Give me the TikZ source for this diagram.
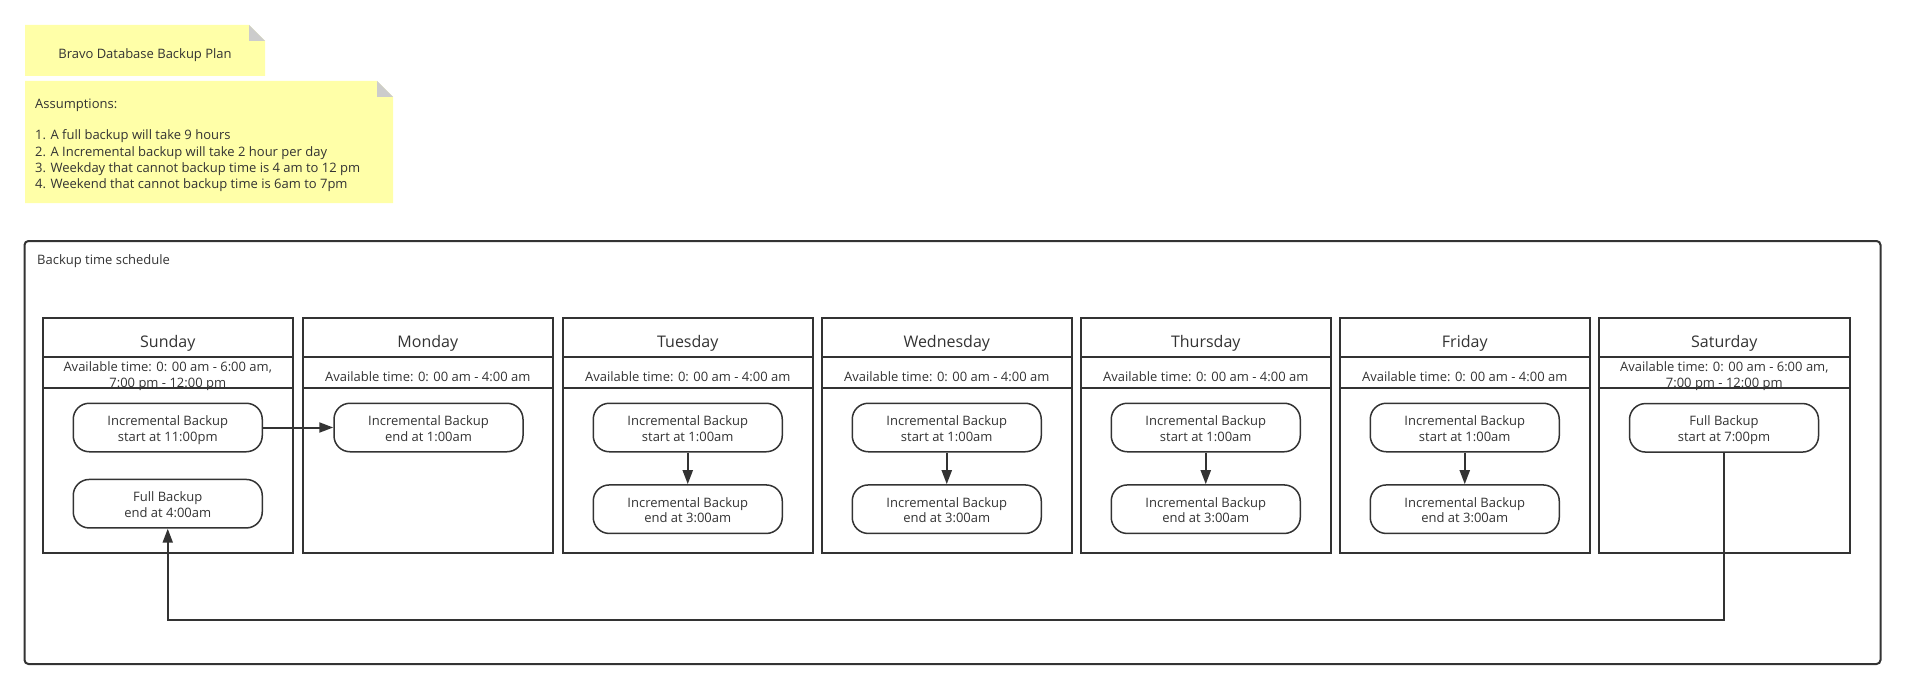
\documentclass[tikz,border=0pt]{standalone}
\usepackage{fontspec}
\setmainfont{Open Sans}
\usetikzlibrary{arrows.meta}
\definecolor{ink}{HTML}{333333}
\definecolor{notebg}{HTML}{FFFFA8}
\definecolor{foldc}{HTML}{CCCCCC}
\begin{document}
\begin{tikzpicture}[x=1pt,y=-1pt,
  every node/.style={text=ink, font=\fontsize{13}{16}\selectfont},
  daybox/.style={draw=ink, line width=2pt},
  dayname/.style={font=\fontsize{16}{19}\selectfont, inner sep=0pt},
  avail/.style={font=\fontsize{13}{16}\selectfont, align=center, inner sep=0pt},
  proc/.style={draw=ink, line width=1.5pt, rounded corners=16pt, minimum width=189pt, minimum height=48.5pt, align=center, inner sep=0pt, text height=27pt, text depth=0pt, font=\fontsize{13}{15.7}\selectfont},
  link/.style={draw=ink, line width=2pt, -{Triangle[length=14pt,width=10pt]}},
  frame/.style={draw=ink, line width=2pt, rounded corners=4pt}]
\useasboundingbox (0,0) rectangle (1906,690);
\fill[white] (0,0) rectangle (1906,690);

% notes
\fill[notebg] (25,25) -- (249,25) -- (265,41) -- (265,76) -- (25,76) -- cycle;
\fill[foldc] (249,25) -- (265,41) -- (249,41) -- cycle;
\node (title) at (145,55) {Bravo Database Backup Plan};

\fill[notebg] (25,81) -- (377,81) -- (393,97) -- (393,203) -- (25,203) -- cycle;
\fill[foldc] (377,81) -- (393,97) -- (377,97) -- cycle;
\node[anchor=base west, align=left, inner sep=0pt] (assume) at (35,188) {Assumptions:\\[16pt]
1. A full backup will take 9 hours\\
2. A Incremental backup will take 2 hour per day\\
3. Weekday that cannot backup time is 4 am to 12 pm\\
4. Weekend that cannot backup time is 6am to 7pm};

% frame
\draw[frame] (24.5,241) rectangle (1880.5,664);
\node[anchor=west, inner sep=0pt] (framelabel) at (37,261.5) {Backup time schedule};

% day columns
\foreach \L/\day [count=\i] in {42.5/Sunday, 302.5/Monday, 562.5/Tuesday, 821.5/Wednesday, 1080.5/Thursday, 1339.5/Friday, 1599/Saturday} {
  \draw[daybox] (\L,318) rectangle ++(250.5,235);
  \draw[daybox] (\L,357) -- ++(250.5,0);
  \node[dayname] (d\i) at (\L+125.25,343) {\day};
}
\foreach \L [count=\i from 2] in {302.5, 562.5, 821.5, 1080.5, 1339.5} {
  \node[avail] (a\i) at (\L+125.25,376.5) {Available time: 0: 00 am - 4:00 am};
}
\node[avail] (a1) at (167.75,376.5) {Available time: 0: 00 am - 6:00 am,\\7:00 pm - 12:00 pm};
\node[avail] (a7) at (1724.25,376.5) {Available time: 0: 00 am - 6:00 am,\\7:00 pm - 12:00 pm};
\foreach \L in {42.5, 302.5, 562.5, 821.5, 1080.5, 1339.5, 1599} {
  \draw[daybox] (\L,388) -- ++(250.5,0);
}

% processes
\node[proc] (sunA) at (167.75,427.5) {Incremental Backup\\start at 11:00pm};
\node[proc] (sunB) at (167.75,503.7) {Full Backup\\end at 4:00am};
\node[proc] (monA) at (428.5,427.5) {Incremental Backup\\end at 1:00am};
\foreach \L/\n in {562.5/tue, 821.5/wed, 1080.5/thu, 1339.5/fri} {
  \node[proc] (\n A) at (\L+125.25,427.5) {Incremental Backup\\start at 1:00am};
  \node[proc] (\n B) at (\L+125.25,509.2) {Incremental Backup\\end at 3:00am};
  \draw[link] (\n A.south) -- (\n B.north);
}
\node[proc] (satA) at (1724,427.8) {Full Backup\\start at 7:00pm};

% connectors
\draw[link] (sunA.east) -- (monA.west);
\draw[link] (satA.south) -- ++(0,167) -| (sunB.south);
\end{tikzpicture}
\end{document}
